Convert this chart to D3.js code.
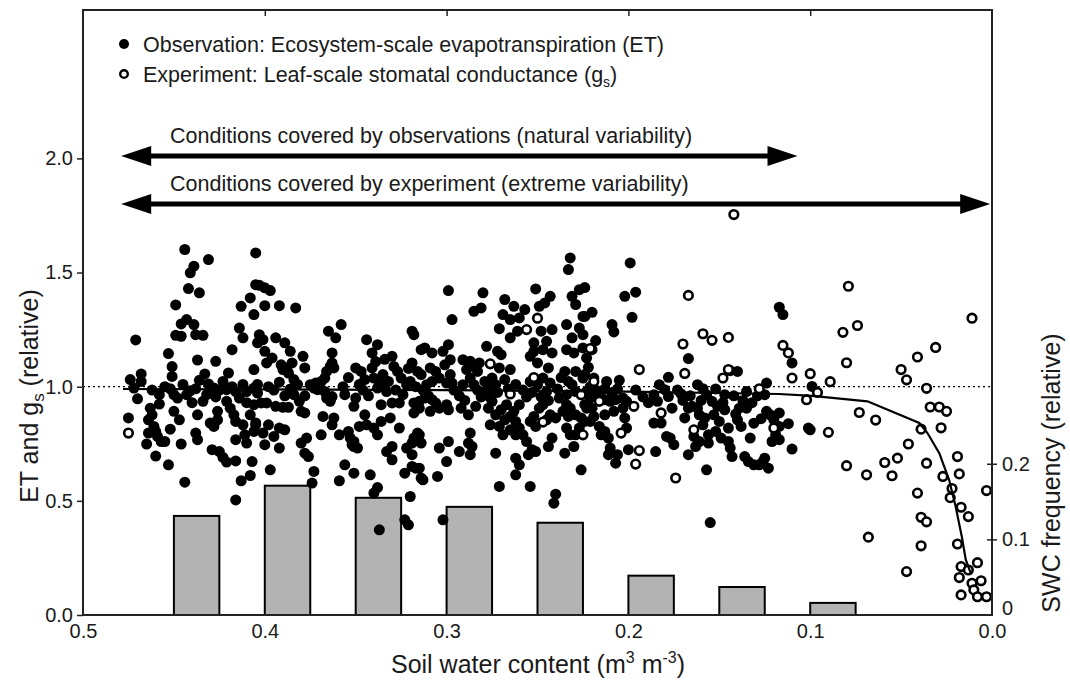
<!DOCTYPE html>
<html>
<head>
<meta charset="utf-8">
<script src="https://cdn.jsdelivr.net/npm/d3@7"></script>
<style>
  body { margin: 0; background: #fff; }
  svg text { font-family: "Liberation Sans", Arial, sans-serif; fill: #1a1a1a; }
</style>
</head>
<body>
<div id="chart"></div>
<script>
// observation: ecosystem-scale ET  [soil water content, relative value]
const observation = [
  [0.444,1.601],[0.431,1.557],[0.439,1.528],[0.441,1.499],[0.442,1.430],[0.436,1.411],[0.449,1.358],[0.443,1.294],[0.446,1.275],[0.439,1.272],
  [0.449,1.225],[0.446,1.221],[0.438,1.228],[0.434,1.225],[0.471,1.205],[0.453,1.145],[0.437,1.117],[0.427,1.111],[0.451,1.088],[0.451,1.045],
  [0.468,1.056],[0.474,1.031],[0.468,1.023],[0.472,0.994],[0.433,1.056],[0.436,1.028],[0.431,1.012],[0.452,0.991],[0.448,0.950],[0.450,0.965],
  [0.470,0.947],[0.441,0.982],[0.438,0.991],[0.428,0.994],[0.423,1.023],[0.420,1.060],[0.418,1.162],[0.434,0.936],[0.458,0.924],[0.463,0.906],
  [0.462,0.877],[0.464,0.855],[0.475,0.863],[0.461,0.826],[0.464,0.797],[0.460,0.804],[0.459,0.782],[0.465,0.749],[0.457,0.760],[0.455,0.760],
  [0.450,0.892],[0.447,0.855],[0.452,0.814],[0.446,0.749],[0.437,0.877],[0.438,0.797],[0.437,0.768],[0.460,0.696],[0.453,0.658],[0.444,0.582],
  [0.430,0.841],[0.426,0.855],[0.426,0.892],[0.428,0.826],[0.429,0.724],[0.425,0.716],[0.423,0.690],[0.421,0.670],[0.416,0.675],[0.416,0.504],
  [0.413,0.588],[0.408,0.611],[0.407,0.672],[0.421,0.936],[0.419,0.906],[0.417,0.877],[0.416,0.848],[0.412,0.833],[0.414,0.950],[0.410,0.979],
  [0.406,0.994],[0.421,0.987],[0.416,0.979],[0.411,0.789],[0.410,0.753],[0.416,0.768],[0.406,0.804],[0.405,0.833],[0.408,0.877],[0.406,0.921],
  [0.413,1.352],[0.408,1.389],[0.406,1.316],[0.414,1.257],[0.412,1.214],[0.405,1.447],[0.405,1.586],[0.406,1.075],
  [0.403,1.444],[0.400,1.433],[0.397,1.421],[0.400,1.355],[0.392,1.355],[0.383,1.345],[0.403,1.228],[0.404,1.192],[0.401,1.206],[0.394,1.214],
  [0.389,1.192],[0.386,1.155],[0.400,1.155],[0.396,1.126],[0.399,1.104],[0.391,1.096],[0.388,1.082],[0.385,1.104],[0.387,1.060],[0.384,1.031],
  [0.390,1.075],[0.379,1.133],[0.378,1.082],[0.404,0.972],[0.402,0.929],[0.399,0.929],[0.394,0.914],[0.390,0.910],[0.387,0.910],[0.384,0.965],
  [0.381,0.936],[0.380,0.892],[0.378,0.885],[0.405,0.841],[0.398,0.833],[0.401,0.797],[0.395,0.782],[0.392,0.819],[0.389,0.811],[0.400,0.746],
  [0.392,0.731],[0.397,0.636],[0.380,0.753],[0.377,0.775],[0.378,0.709],[0.376,0.694],[0.373,0.629],[0.374,0.578],
  [0.375,1.009],[0.373,0.994],[0.371,0.987],[0.372,1.016],[0.369,1.023],[0.367,1.038],[0.366,1.067],[0.364,1.089],[0.363,1.104],[0.362,1.082],
  [0.363,1.148],[0.365,1.243],[0.361,1.214],[0.358,1.272],[0.366,0.950],[0.364,0.936],[0.363,0.957],[0.356,0.965],[0.367,0.979],[0.370,1.001],
  [0.368,0.870],[0.362,0.863],[0.363,0.833],[0.369,0.789],[0.359,0.789],[0.354,0.804],[0.353,0.775],[0.352,0.746],[0.351,0.738],[0.349,0.731],
  [0.351,0.760],[0.356,0.658],[0.351,0.621],[0.359,0.588],[0.350,0.950],[0.351,0.914],[0.344,1.206],[0.338,1.184],[0.341,1.148],[0.350,1.082],
  [0.347,1.067],[0.345,1.031],[0.341,1.082],[0.340,1.038],[0.337,1.023],[0.335,1.001],[0.333,0.979],[0.338,0.994],[0.335,1.053],[0.332,1.023],
  [0.330,1.133],[0.329,1.089],[0.327,1.067],[0.325,1.038],[0.322,1.009],[0.320,1.023],[0.319,1.104],[0.316,1.067],[0.318,1.228],[0.319,1.243],
  [0.314,1.162],[0.345,0.877],[0.348,0.826],[0.344,0.833],[0.340,0.819],[0.338,0.789],[0.336,0.848],[0.331,0.863],[0.326,0.819],[0.336,0.921],
  [0.330,0.929],[0.326,0.929],[0.333,0.716],[0.330,0.738],[0.330,0.680],[0.342,0.614],[0.338,0.558],[0.340,0.534],[0.337,0.373],[0.323,0.417],
  [0.321,0.395],[0.320,0.519],[0.323,0.621],[0.319,0.651],[0.317,0.643],[0.314,0.600],[0.322,0.731],[0.319,0.753],[0.318,0.775],[0.316,0.797],
  [0.319,0.702],[0.318,0.929],[0.315,0.906],[0.318,0.885],
  [0.232,1.564],[0.233,1.513],[0.299,1.421],[0.280,1.411],[0.251,1.428],[0.243,1.396],[0.297,1.294],[0.285,1.330],[0.281,1.345],[0.268,1.382],
  [0.263,1.352],[0.257,1.338],[0.269,1.316],[0.265,1.294],[0.260,1.301],[0.271,1.254],[0.265,1.214],[0.261,1.243],[0.249,1.352],[0.246,1.367],
  [0.248,1.243],[0.242,1.250],[0.245,1.199],[0.252,1.192],[0.231,1.396],[0.227,1.425],[0.229,1.360],[0.225,1.308],[0.234,1.272],[0.227,1.257],
  [0.231,1.214],[0.225,1.228],[0.234,1.162],[0.230,1.148],[0.225,1.170],[0.223,1.126],[0.312,1.170],[0.308,1.148],[0.302,1.155],[0.299,1.184],
  [0.298,1.118],[0.301,1.096],[0.309,1.082],[0.306,1.067],[0.304,1.038],[0.298,1.053],[0.297,1.016],[0.300,1.016],[0.308,1.023],[0.311,1.009],
  [0.314,1.053],[0.291,1.118],[0.287,1.111],[0.285,1.089],[0.282,1.104],[0.289,1.075],[0.283,1.067],[0.287,1.038],[0.291,1.009],[0.285,1.009],
  [0.279,1.023],[0.278,1.177],[0.272,1.155],[0.270,1.140],[0.271,1.082],[0.265,1.075],[0.268,1.031],[0.275,1.038],[0.276,1.001],[0.279,0.979],
  [0.273,1.009],[0.254,1.133],[0.252,1.155],[0.247,1.162],[0.250,1.104],[0.244,1.082],[0.242,1.148],[0.247,1.038],[0.250,1.009],[0.254,1.023],
  [0.243,1.016],[0.245,0.979],[0.235,1.067],[0.233,1.023],[0.231,1.009],[0.229,1.067],[0.225,1.038],[0.234,0.965],[0.229,0.979],[0.223,0.979],
  [0.315,0.936],[0.312,0.950],[0.308,0.943],[0.306,0.929],[0.304,0.906],[0.300,0.921],[0.299,0.899],[0.309,0.892],[0.292,0.906],[0.288,0.877],
  [0.284,0.914],[0.315,0.789],[0.314,0.753],[0.304,0.731],[0.299,0.760],[0.300,0.672],[0.293,0.716],[0.287,0.702],[0.288,0.753],[0.286,0.738],
  [0.287,0.797],[0.313,0.592],[0.305,0.607],[0.315,0.643],[0.302,0.417],[0.277,0.906],[0.275,0.936],[0.273,0.877],[0.270,0.899],[0.267,0.921],
  [0.276,0.833],[0.271,0.826],[0.268,0.855],[0.265,0.870],[0.263,0.892],[0.260,0.921],[0.262,0.848],[0.260,0.819],[0.258,0.789],[0.256,0.760],
  [0.262,0.789],[0.265,0.811],[0.269,0.789],[0.254,0.848],[0.252,0.870],[0.249,0.906],[0.251,0.826],[0.247,0.921],[0.245,0.855],[0.243,0.877],
  [0.240,0.863],[0.273,0.709],[0.262,0.687],[0.260,0.658],[0.255,0.702],[0.253,0.724],[0.251,0.716],[0.262,0.614],[0.271,0.563],[0.254,0.563],
  [0.242,0.775],[0.244,0.738],[0.240,0.529],[0.241,0.490],[0.235,0.709],[0.230,0.738],[0.226,0.636],[0.234,0.921],[0.236,0.892],[0.233,0.870],
  [0.232,0.906],[0.229,0.877],[0.226,0.863],[0.234,0.819],[0.232,0.789],[0.227,0.819],[0.224,0.848],[0.223,0.906],[0.229,0.789],
  [0.199,1.542],[0.202,1.396],[0.196,1.414],[0.198,1.304],[0.220,1.326],[0.209,1.272],[0.208,1.240],[0.218,1.202],[0.220,1.162],[0.224,1.434],
  [0.224,1.308],[0.222,1.085],[0.224,1.053],[0.219,1.038],[0.212,1.023],[0.205,1.028],[0.167,1.123],[0.178,1.041],[0.183,1.009],[0.180,0.987],
  [0.178,0.957],[0.171,0.968],[0.162,1.009],[0.159,0.991],[0.144,1.070],[0.140,1.067],[0.124,1.016],[0.125,0.965],[0.135,0.979],[0.147,0.965],
  [0.117,1.348],[0.115,1.316],[0.224,0.921],[0.221,0.950],[0.216,0.965],[0.213,0.943],[0.210,0.936],[0.207,0.943],[0.203,0.950],[0.201,0.936],
  [0.203,0.906],[0.208,0.892],[0.213,0.877],[0.219,0.870],[0.221,0.848],[0.216,0.826],[0.213,0.804],[0.211,0.775],[0.210,0.731],[0.211,0.702],
  [0.215,0.789],[0.220,0.906],[0.202,0.863],[0.201,0.819],[0.206,0.702],[0.200,0.724],[0.207,0.665],[0.185,0.716],[0.186,0.841],[0.182,0.841],
  [0.184,0.936],[0.176,0.906],[0.169,0.863],[0.179,0.782],[0.177,0.775],[0.175,0.746],[0.167,0.906],[0.165,0.914],[0.162,0.906],[0.161,0.877],
  [0.158,0.863],[0.159,0.833],[0.164,0.782],[0.161,0.760],[0.156,0.789],[0.156,0.753],[0.163,0.738],[0.167,0.702],[0.157,0.636],[0.155,0.405],
  [0.154,0.936],[0.151,0.914],[0.153,0.877],[0.150,0.848],[0.147,0.899],[0.152,0.804],[0.149,0.775],[0.145,0.760],[0.144,0.731],[0.143,0.694],
  [0.145,0.819],[0.140,0.855],[0.138,0.826],[0.139,0.906],[0.135,0.906],[0.133,0.775],[0.136,0.694],[0.134,0.672],[0.131,0.658],[0.128,0.658],
  [0.125,0.687],[0.123,0.643],[0.126,0.672],[0.124,0.892],[0.122,0.877],[0.120,0.855],[0.119,0.789],[0.121,0.760],
  [0.112,0.838],[0.110,0.727],[0.101,0.819],[0.100,0.811],[0.099,1.001],[0.110,1.104],[0.117,0.885],[0.117,0.826],[0.117,0.768],
  [0.296,0.985],[0.293,0.960],[0.290,0.940],[0.283,0.985],[0.281,0.955],[0.277,0.960],[0.272,0.975],[0.266,0.990],[0.262,1.010],[0.258,0.985],
  [0.256,0.955],[0.253,0.975],[0.248,0.955],[0.244,0.940],[0.239,0.990],[0.237,1.040],[0.238,0.950],[0.221,1.000],[0.218,0.985],[0.213,0.990],
  [0.209,0.975],[0.206,0.990],[0.462,0.985],[0.458,0.965],[0.455,1.000],[0.445,1.010],[0.443,0.965],[0.440,0.930],[0.432,0.965],[0.427,0.955],
  [0.425,0.985],[0.418,1.000],[0.412,1.010],[0.410,0.930],[0.404,1.010],[0.398,1.000],[0.395,0.985],[0.392,1.020],[0.389,0.960],[0.386,0.990],
  [0.382,1.010],[0.378,0.960],[0.357,1.000],[0.354,1.040],[0.348,1.010],[0.346,0.985],[0.343,0.960],[0.339,1.110],[0.334,1.120],[0.328,0.985],
  [0.324,0.965],[0.321,1.080],[0.317,1.000],[0.313,0.985],[0.310,0.960],[0.196,0.985],[0.192,0.955],[0.189,0.930],[0.186,0.965],[0.173,0.985],
  [0.170,0.940],[0.166,0.960],[0.160,0.940],[0.157,0.965],[0.152,0.990],[0.148,0.930],[0.142,0.960],[0.137,0.940],[0.132,0.930],[0.129,0.960],
  [0.127,0.860],[0.131,0.840],[0.141,0.880]
];

// experiment: leaf-scale stomatal conductance  [soil water content, relative value]
const experiment = [
  [0.079,1.440],[0.011,1.300],[0.074,1.268],[0.082,1.238],[0.031,1.172],[0.041,1.130],[0.080,1.105],[0.050,1.075],[0.047,1.030],[0.100,1.057],
  [0.089,1.022],[0.036,0.993],[0.102,0.943],[0.096,0.975],[0.034,0.911],[0.029,0.911],[0.025,0.892],[0.073,0.887],[0.064,0.854],[0.039,0.814],
  [0.028,0.820],[0.090,0.800],[0.046,0.749],[0.019,0.694],[0.036,0.665],[0.080,0.654],[0.059,0.668],[0.052,0.687],[0.069,0.614],[0.055,0.610],
  [0.018,0.618],[0.027,0.607],[0.041,0.534],[0.022,0.554],[0.023,0.514],[0.003,0.545],[0.017,0.472],[0.013,0.431],[0.039,0.428],[0.036,0.408],
  [0.068,0.341],[0.039,0.303],[0.019,0.311],[0.047,0.190],[0.017,0.212],[0.008,0.229],[0.013,0.197],[0.018,0.164],[0.011,0.139],[0.006,0.150],
  [0.010,0.110],[0.017,0.088],[0.008,0.080],[0.003,0.080],
  [0.167,1.400],[0.159,1.232],[0.154,1.203],[0.145,1.216],[0.170,1.187],[0.221,1.167],[0.194,1.075],[0.169,1.058],[0.148,1.038],[0.145,1.075],
  [0.128,0.991],[0.219,1.023],[0.204,0.797],[0.197,0.914],[0.216,0.936],[0.182,0.885],[0.164,0.811],[0.120,0.819],[0.194,0.720],[0.196,0.661],
  [0.174,0.600],[0.115,1.181],[0.112,1.148],[0.110,1.038],[0.250,1.300],[0.256,1.250],[0.276,1.100],[0.252,1.040],[0.265,0.968],[0.247,0.845],
  [0.226,0.965],[0.225,0.789],[0.475,0.797],[0.142,1.754]
];

// fitted response curve
const curveSwc = [0.478, 0.4, 0.3, 0.2, 0.117, 0.099, 0.0685, 0.040, 0.0355, 0.029, 0.0236, 0.020, 0.0166, 0.0144, 0.0117];
const curveVal = [0.99, 0.988, 0.985, 0.978, 0.968, 0.96, 0.936, 0.841, 0.797, 0.709, 0.592, 0.475, 0.343, 0.241, 0.183];

// SWC frequency histogram
const binStart = [0.45, 0.40, 0.35, 0.30, 0.25, 0.20, 0.15, 0.10];
const binFreq = [0.131, 0.171, 0.155, 0.143, 0.122, 0.052, 0.037, 0.016];

// range arrows
const arrowLabels = ["Conditions covered by observations (natural variability)", "Conditions covered by experiment (extreme variability)"];
const arrowFrom = [0.479, 0.479];
const arrowTo = [0.107, 0.001];
const arrowLevel = [2.01, 1.80];

const xTicks = [0.5, 0.4, 0.3, 0.2, 0.1, 0.0];
const yTicks = [0, 0.5, 1.0, 1.5, 2.0];
const y2Ticks = [0, 0.1, 0.2];

const width = 1070, height = 684;
const margin = {left: 83, right: 78, top: 10, bottom: 69};

const svg = d3.select("#chart")
    .append("svg")
    .attr("width", width)
    .attr("height", height);

const x = d3.scaleLinear()
    .domain([0.5, 0])
    .range([margin.left, width - margin.right]);
const y = d3.scaleLinear()
    .domain([0, 2.65])
    .range([height - margin.bottom, margin.top]);
const y2 = d3.scaleLinear()
    .domain([0, 0.8])
    .range([height - margin.bottom, margin.top]);

// histogram bars
svg.append("g")
    .selectAll("rect")
    .data(binStart)
    .join("rect")
    .attr("x", d => x(d))
    .attr("width", d => x(d - 0.025) - x(d))
    .attr("y", (d, i) => y2(binFreq[i]))
    .attr("height", (d, i) => y2(0) - y2(binFreq[i]))
    .attr("fill", "#b3b3b3")
    .attr("stroke", "#000")
    .attr("stroke-width", 2);

// reference line at 1
svg.append("line")
    .attr("x1", x(0.5))
    .attr("x2", x(0))
    .attr("y1", y(1))
    .attr("y2", y(1))
    .attr("stroke", "#000")
    .attr("stroke-width", 1.3)
    .attr("stroke-dasharray", "2,3");

svg.append("g")
    .selectAll("circle")
    .data(observation)
    .join("circle")
    .attr("cx", d => x(d[0]))
    .attr("cy", d => y(d[1]))
    .attr("r", 5.5)
    .attr("fill", "#000");

svg.append("g")
    .selectAll("circle")
    .data(experiment)
    .join("circle")
    .attr("cx", d => x(d[0]))
    .attr("cy", d => y(d[1]))
    .attr("r", 4.3)
    .attr("fill", "#fff")
    .attr("stroke", "#000")
    .attr("stroke-width", 2.6);

const line = d3.line()
    .x(d => x(d[0]))
    .y(d => y(d[1]));
svg.append("path")
    .datum(curveSwc.map((s, i) => [s, curveVal[i]]))
    .attr("d", line)
    .attr("fill", "none")
    .attr("stroke", "#000")
    .attr("stroke-width", 2.2);

// arrows with heads on both ends
const arrows = svg.append("g");
arrowLabels.forEach((label, i) => {
    const x0 = x(arrowFrom[i]), x1 = x(arrowTo[i]), yy = y(arrowLevel[i]);
    const hl = 30, hh = 10;
    arrows.append("line")
        .attr("x1", x0 + hl - 2).attr("x2", x1 - hl + 2)
        .attr("y1", yy).attr("y2", yy)
        .attr("stroke", "#000")
        .attr("stroke-width", 5);
    arrows.append("path")
        .attr("d", `M${x0},${yy}L${x0 + hl},${yy - hh}L${x0 + hl},${yy + hh}Z`)
        .attr("fill", "#000");
    arrows.append("path")
        .attr("d", `M${x1},${yy}L${x1 - hl},${yy - hh}L${x1 - hl},${yy + hh}Z`)
        .attr("fill", "#000");
    arrows.append("text")
        .text(label)
        .attr("x", 170)
        .attr("y", yy - 13)
        .attr("font-size", 21.5);
});

// frame
svg.append("rect")
    .attr("x", margin.left)
    .attr("y", margin.top)
    .attr("width", width - margin.left - margin.right)
    .attr("height", height - margin.top - margin.bottom)
    .attr("fill", "none")
    .attr("stroke", "#222")
    .attr("stroke-width", 2);

svg.append("g")
    .attr("transform", `translate(${margin.left},0)`)
    .call(d3.axisLeft(y).tickValues(yTicks).tickFormat(d3.format(".1f")).tickSize(6).tickPadding(4))
    .call(g => {
        g.select(".domain").remove();
        g.selectAll("line").attr("stroke", "#222").attr("stroke-width", 1.5);
        g.selectAll("text").attr("font-size", 20).attr("font-family", null);
    });

svg.append("g")
    .attr("transform", `translate(0,${height - margin.bottom})`)
    .call(d3.axisBottom(x).tickValues(xTicks).tickFormat(d3.format(".1f")).tickSize(0).tickPadding(9))
    .call(g => {
        g.select(".domain").remove();
        g.selectAll("text").attr("font-size", 20).attr("font-family", null);
    });

svg.append("g")
    .attr("transform", `translate(0,${margin.top})`)
    .call(d3.axisTop(x).tickValues(xTicks.slice(1, -1)).tickSize(-6).tickFormat(""))
    .call(g => {
        g.select(".domain").remove();
        g.selectAll("line").attr("stroke", "#222").attr("stroke-width", 1.5);
    });

svg.append("g")
    .attr("transform", `translate(${width - margin.right},0)`)
    .call(d3.axisRight(y2).tickValues(y2Ticks).tickFormat(d => d === 0 ? "0" : d3.format(".1f")(d)).tickSize(5).tickPadding(5))
    .call(g => {
        g.select(".domain").remove();
        g.selectAll("line").attr("x1", -5).attr("stroke", "#222").attr("stroke-width", 1.5);
        g.selectAll(".tick").filter(d => d === 0).select("line").remove();
        g.selectAll("text").attr("font-size", 20).attr("font-family", null);
        g.selectAll(".tick").filter(d => d === 0).select("text").attr("dy", "-0.05em");
    });

// axis titles
svg.append("text")
    .attr("x", 538)
    .attr("y", 673)
    .attr("text-anchor", "middle")
    .attr("font-size", 25)
    .call(t => {
        t.append("tspan").text("Soil water content (m");
        t.append("tspan").text("3").attr("font-size", 16).attr("dy", -10);
        t.append("tspan").text(" m").attr("dy", 10);
        t.append("tspan").text("-3").attr("font-size", 16).attr("dy", -10);
        t.append("tspan").text(")").attr("dy", 10);
    });

svg.append("text")
    .attr("transform", "translate(38,396) rotate(-90)")
    .attr("text-anchor", "middle")
    .attr("font-size", 25)
    .call(t => {
        t.append("tspan").text("ET and g");
        t.append("tspan").text("s").attr("font-size", 17).attr("dy", 6);
        t.append("tspan").text(" (relative)").attr("dy", -6);
    });

svg.append("text")
    .attr("transform", "translate(1060,473) rotate(-90)")
    .attr("text-anchor", "middle")
    .attr("font-size", 25)
    .text("SWC frequency (relative)");

// legend
const legend = svg.append("g");
legend.append("circle")
    .attr("cx", 124).attr("cy", 44).attr("r", 5).attr("fill", "#000");
legend.append("circle")
    .attr("cx", 124).attr("cy", 74).attr("r", 3.8)
    .attr("fill", "#fff").attr("stroke", "#000").attr("stroke-width", 2.4);
legend.append("text")
    .attr("x", 143).attr("y", 52)
    .attr("font-size", 21.5)
    .text("Observation: Ecosystem-scale evapotranspiration (ET)");
legend.append("text")
    .attr("x", 143).attr("y", 82)
    .attr("font-size", 21.5)
    .call(t => {
        t.append("tspan").text("Experiment: Leaf-scale stomatal conductance (g");
        t.append("tspan").text("s").attr("font-size", 14).attr("dy", 5);
        t.append("tspan").text(")").attr("dy", -5);
    });
</script>
</body>
</html>
